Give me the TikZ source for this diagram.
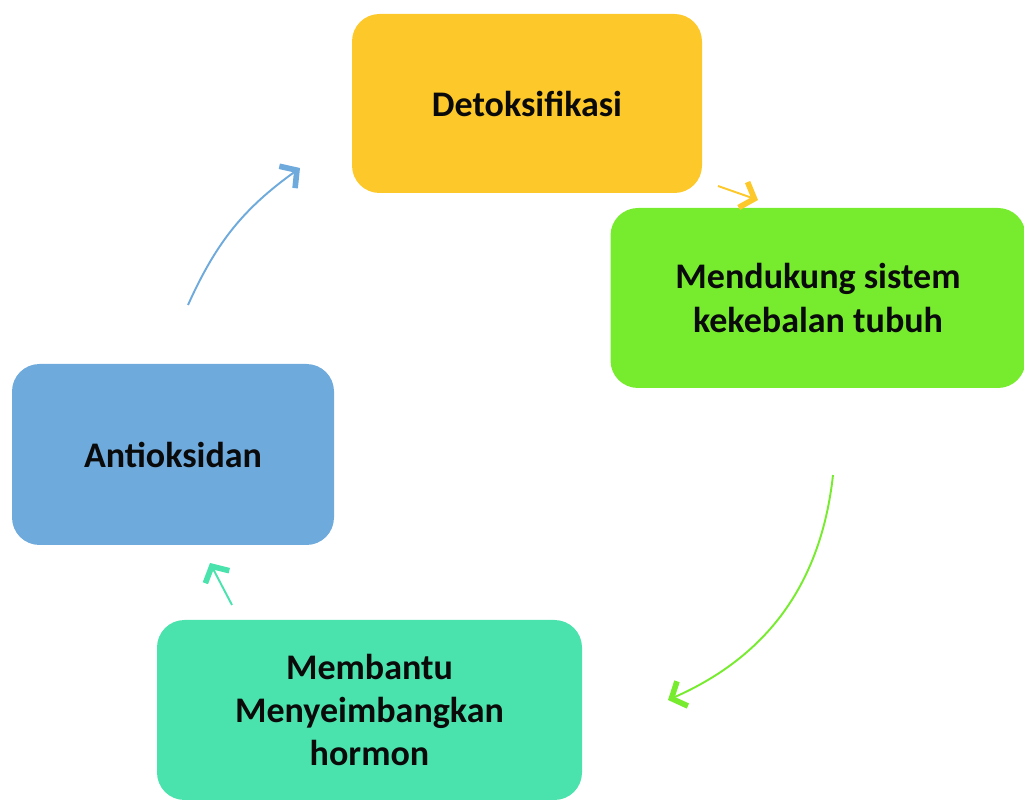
\documentclass[tikz,border=0pt]{standalone}
\usepackage{fontspec}
\setmainfont{Carlito}
\usetikzlibrary{arrows.meta, positioning}

\definecolor{kuning}{HTML}{FDC82A}
\definecolor{hijau}{HTML}{77EC2F}
\definecolor{biru}{HTML}{6FAADC}
\definecolor{tosca}{HTML}{4BE3AD}
\definecolor{teks}{HTML}{0A0A0A}

\begin{document}
\begin{tikzpicture}[
        kotak/.style={rectangle, rounded corners=0.55cm, inner sep=0pt, align=center,
            text=teks, font=\bfseries\fontsize{20.5}{24.5}\selectfont},
        panah/.style={line width=1.1pt, -{Straight Barb[length=2.4mm, width=5.4mm, line width=3.2pt]}}
    ]
        \useasboundingbox (0,0) rectangle (20.48,15.98);

        % Kotak utama
        \node [kotak, fill=kuning, minimum width=7cm, minimum height=3.58cm] (detoks) at (10.54,13.91) {Detoksifikasi};
        \node [kotak, fill=hijau, minimum width=8.3cm, minimum height=3.6cm] (imun) at (16.36,10.02) {Mendukung sistem\\kekebalan tubuh};
        \node [kotak, fill=biru, minimum width=6.44cm, minimum height=3.62cm] (anti) at (3.46,6.89) {Antioksidan};
        \node [kotak, fill=tosca, minimum width=8.5cm, minimum height=3.6cm] (hormon) at (7.39,1.78) {Membantu\\Menyeimbangkan\\hormon};

        % Titik ujung panah
        \coordinate (b1) at (3.76,9.88);
        \coordinate (b2) at (6.0,12.62);
        \coordinate (k1) at (14.36,12.26);
        \coordinate (k2) at (15.16,11.98);
        \coordinate (h1) at (16.66,6.48);
        \coordinate (h2) at (13.36,1.98);
        \coordinate (t1) at (4.64,3.88);
        \coordinate (t2) at (4.2,4.72);

        % Panah siklus
        \draw[panah, biru] (b1) to[bend left=15] (b2);
        \draw[panah, kuning] (k1) -- (k2);
        \draw[panah, hijau] (h1) to[bend left=30] (h2);
        \draw[panah, tosca] (t1) -- (t2);
    \end{tikzpicture}
\end{document}
